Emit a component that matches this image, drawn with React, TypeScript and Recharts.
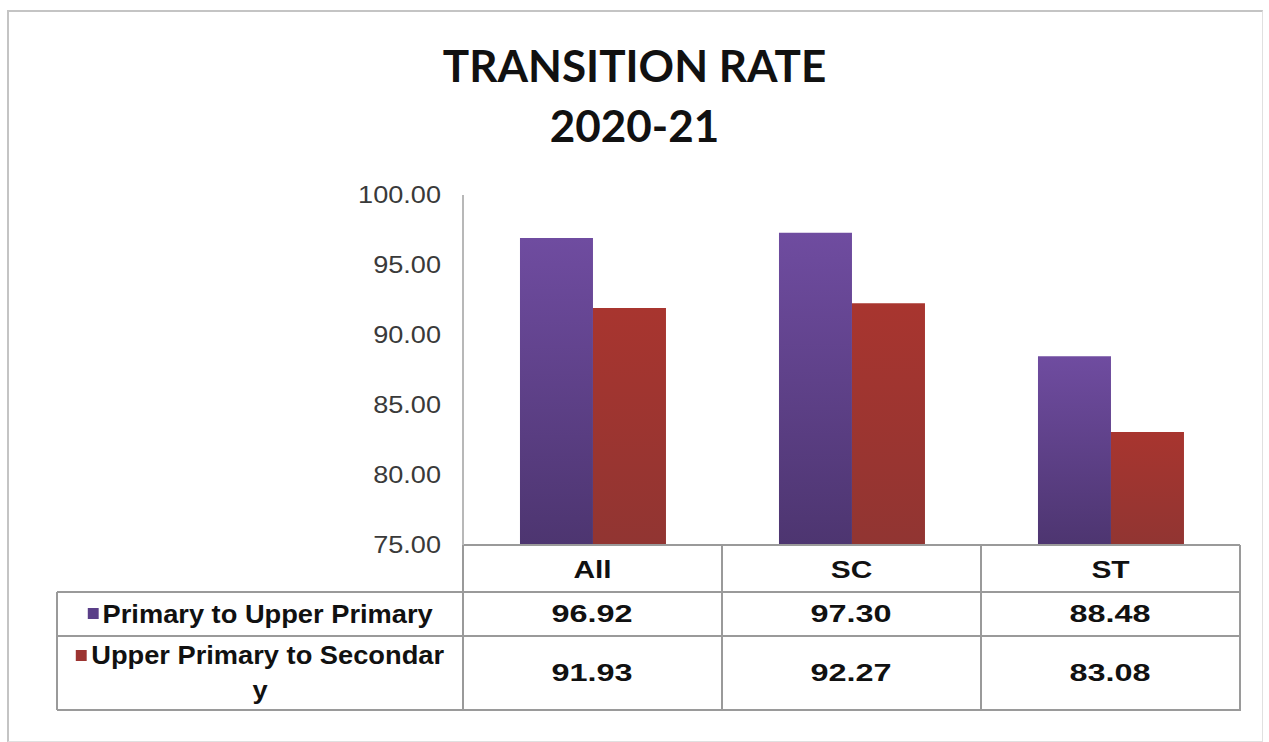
import { Bar, BarChart, XAxis, YAxis } from "recharts";

const categories = ["All", "SC", "ST"];
const primaryToUpper = [96.92, 97.3, 88.48];
const upperToSecondary = [91.93, 92.27, 83.08];
const yTicks = [75, 80, 85, 90, 95, 100];

const seriesNames = ["Primary to Upper Primary", "Upper Primary to Secondary"];

const data = categories.map((name, i) => ({
  name,
  primary: primaryToUpper[i],
  secondary: upperToSecondary[i],
}));

const W = 1269;
const H = 742;
const PLOT_LEFT = 463;
const PLOT_RIGHT = 1240;
const PLOT_TOP = 195;
const PLOT_BOTTOM = 545;
const COL_W = (PLOT_RIGHT - PLOT_LEFT) / categories.length;
const TABLE_LEFT = 57;
const ROW1_TOP = 592;
const ROW2_TOP = 636;
const TABLE_BOTTOM = 710;
const LINE = "#9a9a9a";
const tableFont = "'Liberation Sans', Arial, sans-serif";

function hLine(x1: number, x2: number, y: number, key: string) {
  return (
    <div
      key={key}
      style={{ position: "absolute", left: x1, top: y - 1, width: x2 - x1, height: 2, background: LINE }}
    />
  );
}

function vLine(x: number, y1: number, y2: number, key: string) {
  return (
    <div
      key={key}
      style={{ position: "absolute", left: x - 1, top: y1, width: 2, height: y2 - y1, background: LINE }}
    />
  );
}

// the source image is stretched sideways, so the texts get a little scaleX
function YTick({ x, y, payload }: any) {
  return (
    <g transform={`translate(${x},${y}) scale(1.13,1)`}>
      <text x={0} y={0} dy="0.35em" textAnchor="end" fontFamily={tableFont} fontSize={24} fill="#3a3a3a">
        {Number(payload.value).toFixed(2)}
      </text>
    </g>
  );
}

function XTick({ x, y, payload }: any) {
  return (
    <g transform={`translate(${x},${y}) scale(1.3,1)`}>
      <text x={0} y={0} dy="0.35em" textAnchor="middle" fontFamily={tableFont} fontWeight={700} fontSize={23} fill="#111">
        {payload.value}
      </text>
    </g>
  );
}

export default function App() {
  const rows = [primaryToUpper, upperToSecondary];
  const rowTops = [ROW1_TOP, ROW2_TOP];
  const rowBottoms = [ROW2_TOP, TABLE_BOTTOM];
  const swatches = ["#5a3f88", "#9c3431"];

  return (
    <div style={{ position: "absolute", left: 0, top: 0, width: W, height: H, background: "#fff", overflow: "hidden" }}>
      <div
        style={{
          position: "absolute",
          left: 7,
          top: 10,
          width: 1253,
          height: 729,
          border: "2px solid #c4c4c4",
          borderRight: "1px solid #e0e0e0",
          borderBottom: "1px solid #e0e0e0",
        }}
      />
      <div
        style={{
          position: "absolute",
          left: 0,
          width: W,
          top: 35,
          textAlign: "center",
          fontFamily: "Lato, 'Open Sans', sans-serif",
          fontWeight: 700,
          fontSize: 44,
          lineHeight: "60px",
          color: "#111",
        }}
      >
        <div>TRANSITION RATE</div>
        <div>2020-21</div>
      </div>

      <div style={{ position: "absolute", left: 0, top: 0 }}>
        <BarChart
          width={W}
          height={H}
          data={data}
          margin={{ top: PLOT_TOP, right: W - PLOT_RIGHT, bottom: H - PLOT_BOTTOM - 47, left: PLOT_LEFT - 90 }}
          barCategoryGap="22%"
          barGap={0}
        >
          <defs>
            <linearGradient id="purpleGrad" x1="0" y1="0" x2="0" y2="1">
              <stop offset="0%" stopColor="#6f4ca0" />
              <stop offset="100%" stopColor="#4d3570" />
            </linearGradient>
            <linearGradient id="redGrad" x1="0" y1="0" x2="0" y2="1">
              <stop offset="0%" stopColor="#a8352f" />
              <stop offset="100%" stopColor="#913532" />
            </linearGradient>
          </defs>
          <XAxis
            dataKey="name"
            height={47}
            axisLine={{ stroke: LINE, strokeWidth: 2 }}
            tickLine={false}
            tickSize={0}
            tickMargin={25}
            tick={<XTick />}
          />
          <YAxis
            width={90}
            domain={[75, 100]}
            ticks={yTicks}
            allowDataOverflow
            axisLine={{ stroke: "#b8b8b8", strokeWidth: 2 }}
            tickLine={false}
            tickSize={0}
            tickMargin={22}
            tick={<YTick />}
          />
          <Bar dataKey="primary" name={seriesNames[0]} fill="url(#purpleGrad)" isAnimationActive={false} />
          <Bar dataKey="secondary" name={seriesNames[1]} fill="url(#redGrad)" isAnimationActive={false} />
        </BarChart>
      </div>

      {/* data table */}
      {categories.map((_, i) => vLine(PLOT_LEFT + COL_W * (i + 1), PLOT_BOTTOM, TABLE_BOTTOM, `v${i}`))}
      {vLine(PLOT_LEFT, PLOT_BOTTOM, TABLE_BOTTOM, "v-left")}
      {vLine(TABLE_LEFT, ROW1_TOP, TABLE_BOTTOM, "v-outer")}
      {hLine(TABLE_LEFT, PLOT_RIGHT + 1, ROW1_TOP, "h1")}
      {hLine(TABLE_LEFT, PLOT_RIGHT + 1, ROW2_TOP, "h2")}
      {hLine(TABLE_LEFT, PLOT_RIGHT + 1, TABLE_BOTTOM, "h3")}

      {rows.map((vals, r) => (
        <div key={`row${r}`}>
          <div
            style={{
              position: "absolute",
              left: TABLE_LEFT,
              top: rowTops[r],
              width: PLOT_LEFT - TABLE_LEFT,
              height: rowBottoms[r] - rowTops[r],
              display: "flex",
              alignItems: "center",
              justifyContent: "center",
            }}
          >
            <div
              style={{
                width: 346,
                flex: "none",
                textAlign: "center",
                wordBreak: "break-all",
                fontFamily: tableFont,
                fontWeight: 700,
                fontSize: 25,
                lineHeight: "35px",
                color: "#111",
                transform: "scaleX(1.09)",
              }}
            >
              <span
                style={{
                  display: "inline-block",
                  width: 10,
                  height: 11,
                  background: swatches[r],
                  marginRight: 4,
                  verticalAlign: "middle",
                  position: "relative",
                  top: -2,
                }}
              />
              {seriesNames[r]}
            </div>
          </div>
          {vals.map((v, i) => (
            <div
              key={`c${r}-${i}`}
              style={{
                position: "absolute",
                left: PLOT_LEFT + COL_W * i,
                top: rowTops[r],
                width: COL_W,
                height: rowBottoms[r] - rowTops[r],
                display: "flex",
                alignItems: "center",
                justifyContent: "center",
                fontFamily: tableFont,
                fontWeight: 700,
                fontSize: 24,
                color: "#111",
              }}
            >
              <span style={{ display: "inline-block", transform: "scaleX(1.35)" }}>{v.toFixed(2)}</span>
            </div>
          ))}
        </div>
      ))}
    </div>
  );
}
